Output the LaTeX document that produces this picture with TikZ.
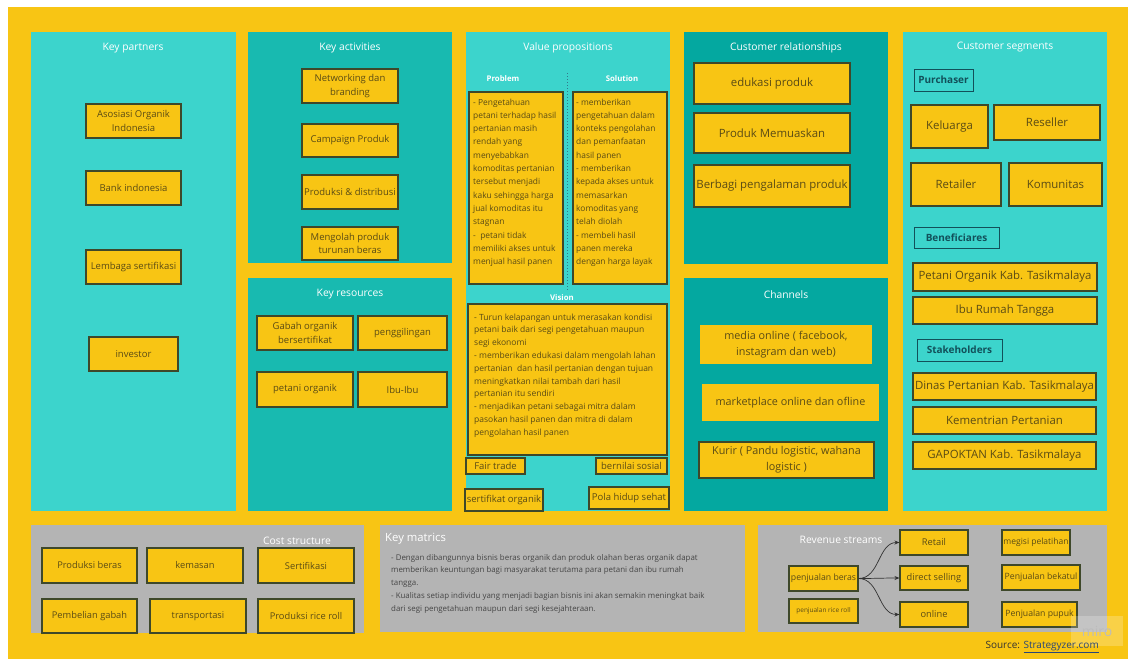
\documentclass[tikz,border=0pt]{standalone}
\usepackage{fontspec}
\setmainfont{Open Sans}
\usetikzlibrary{arrows.meta}
\definecolor{bgy}{RGB}{248,197,20}
\definecolor{tealL}{RGB}{60,212,204}
\definecolor{tealM}{RGB}{24,186,176}
\definecolor{tealD}{RGB}{4,168,160}
\definecolor{grayS}{RGB}{180,180,180}
\definecolor{boxy}{RGB}{248,197,20}
\definecolor{boxline}{RGB}{62,72,42}
\definecolor{boxtext}{RGB}{90,75,20}
\definecolor{labteal}{RGB}{18,80,90}
\definecolor{dotteal}{RGB}{50,120,140}
\definecolor{linkblue}{RGB}{40,70,120}
\newcommand\fs[2]{\fontsize{#1}{#2}\selectfont}
\newcommand\rbox[7]{\node[#1,minimum width={#5-#3},minimum height={#6-#4}] (#2) at ({(#3+#5)/2},{(#4+#6)/2}) {#7};}
\begin{document}
\begin{tikzpicture}[x=1pt,y=-1pt,
  ybox/.style={fill=boxy, draw=boxline, line width=1.1pt, text=boxtext, inner sep=1pt, align=center, font=\fs{9.5}{13.5}},
  nbox/.style={ybox, draw=none},
  labbox/.style={fill=tealL, draw=labteal, line width=1pt, text=labteal, inner sep=1pt, font=\bfseries\fs{10}{12}},
  hdr/.style={text=white, inner sep=0pt, font=\fs{10.3}{12}},
  subhdr/.style={text=white, inner sep=0pt, font=\bfseries\fs{7.8}{10}},
  ptext/.style={text=boxtext, align=left, inner sep=0pt},
  arr/.style={-{Stealth[length=5pt,width=4pt]}, line width=0.7pt, draw={rgb,255:red,50;green,50;blue,50}}
]
\useasboundingbox (0,0) rectangle (1128,659);
\fill[white] (0,0) rectangle (1128,659);
\fill[bgy] (8,7) rectangle (1128,659);
% section backgrounds
\fill[tealL] (31,32) rectangle (236,511);
\fill[tealM] (248,32) rectangle (452,263);
\fill[tealM] (248,278) rectangle (452,511);
\fill[tealL] (466,32) rectangle (670,511);
\fill[tealD] (684,32) rectangle (888,264);
\fill[tealD] (684,278) rectangle (888,511);
\fill[tealL] (903,32) rectangle (1107,511);
\fill[grayS] (31,525) rectangle (364,633);
\fill[grayS] (380,525) rectangle (745,632);
\fill[grayS] (758,525) rectangle (1107,632);
% headers
\node[hdr] (hkp) at (133,48.5) {Key partners};
\node[hdr] (hka) at (350,47.5) {Key activities};
\node[hdr] (hvp) at (568,47.5) {Value propositions};
\node[hdr] (hcr) at (786,47.5) {Customer relationships};
\node[hdr] (hcs) at (1005,47.5) {Customer segments};
\node[hdr] (hkr) at (350,294.5) {Key resources};
\node[hdr] (hch) at (786,294.5) {Channels};
\node[hdr] (hcost) at (297,540.5) {Cost structure};
\node[hdr, anchor=west, font=\fs{11.3}{13}] (hkm) at (385,538.5) {Key matrics};
\node[hdr] (hrev) at (841,539.5) {Revenue streams};
% Key partners
\rbox{ybox}{kp1}{86}{104}{181}{138}{Asosiasi Organik\\Indonesia}
\rbox{ybox}{kp2}{86}{171}{181}{205}{Bank indonesia}
\rbox{ybox}{kp3}{86}{250}{181}{284}{Lembaga sertifikasi}
\rbox{ybox}{kp4}{89}{337}{178}{371}{investor}
% Key activities
\rbox{ybox}{ka1}{302}{69}{398}{103}{Networking dan\\branding}
\rbox{ybox}{ka2}{302}{124}{398}{157}{Campaign Produk}
\rbox{ybox}{ka3}{302}{175}{398}{209}{Produksi \& distribusi}
\rbox{ybox}{ka4}{302}{227}{398}{260}{Mengolah produk\\turunan beras}
% Key resources
\rbox{ybox}{kr1}{257}{316}{353}{350}{Gabah organik\\bersertifikat}
\rbox{ybox}{kr2}{358}{316}{447}{350}{penggilingan}
\rbox{ybox}{kr3}{257}{372}{353}{407}{petani organik}
\rbox{ybox}{kr4}{358}{372}{447}{407}{Ibu-Ibu}
% Value propositions
\node[subhdr] (hprob) at (503,79) {Problem};
\node[subhdr] (hsol) at (622,79) {Solution};
\draw[dotteal, dotted, line width=1pt] (567,73) -- (567,290);
\rbox{ybox}{prob}{469}{92}{563}{284}{}
\rbox{ybox}{sol}{573}{92}{667}{284}{}
\node[ptext, anchor=north west, font=\fs{8.4}{13.3}] (probtxt) at (473,98.5) {- Pengetahuan\\petani terhadap hasil\\pertanian masih\\rendah yang\\menyebabkan\\komoditas pertanian\\tersebut menjadi\\kaku sehingga harga\\jual komoditas itu\\stagnan\\-\ \ petani tidak\\memiliki akses untuk\\menjual hasil panen};
\node[ptext, anchor=north west, font=\fs{8.4}{13.3}] (soltxt) at (576,98.5) {- memberikan\\pengetahuan dalam\\konteks pengolahan\\dan pemanfaatan\\hasil panen\\- memberikan\\kepada akses untuk\\memasarkan\\komoditas yang\\telah diolah\\- membeli hasil\\panen mereka\\dengan harga layak};
\node[subhdr] (hvis) at (562,298) {Vision};
\rbox{ybox}{vis}{468}{304}{667}{455}{}
\node[ptext, anchor=north west, font=\fs{8.5}{12.8}] (vistxt) at (474,313.5) {- Turun kelapangan untuk merasakan kondisi\\petani baik dari segi pengetahuan maupun\\segi ekonomi\\- memberikan edukasi dalam mengolah lahan\\pertanian\ \ dan hasil pertanian dengan tujuan\\meningkatkan nilai tambah dari hasil\\pertanian itu sendiri\\- menjadikan petani sebagai mitra dalam\\pasokan hasil panen dan mitra di dalam\\pengolahan hasil panen};
\rbox{ybox}{fair}{466}{458}{525}{474}{Fair trade}
\rbox{ybox}{sosial}{596}{458}{667}{474}{bernilai sosial}
\rbox{ybox}{sert}{465}{489}{543}{511}{sertifikat organik}
\rbox{ybox}{pola}{589}{487}{669}{509}{Pola hidup sehat}
% Customer relationships
\rbox{ybox, font=\fs{11.4}{14}}{cr1}{694}{63}{850}{104}{edukasi produk}
\rbox{ybox, font=\fs{11.4}{14}}{cr2}{694}{113}{850}{153}{Produk Memuaskan}
\rbox{ybox, font=\fs{11.4}{14}}{cr3}{694}{165}{850}{207}{Berbagi pengalaman produk}
% Channels
\rbox{nbox, font=\fs{10.8}{16}}{ch1}{700}{325}{872}{364}{media online ( facebook,\\instagram dan web)}
\rbox{nbox, font=\fs{10.8}{16}}{ch2}{702}{384}{879}{421}{marketplace online dan ofline}
\rbox{ybox, font=\fs{10.8}{16}}{ch3}{699}{442}{874}{478}{Kurir ( Pandu logistic, wahana\\logistic )}
% Customer segments
\rbox{labbox}{purch}{914}{69}{973}{91}{Purchaser}
\rbox{ybox, font=\fs{11.4}{14}}{kel}{911}{105}{988}{148}{Keluarga}
\rbox{ybox, font=\fs{11.4}{14}}{res}{994}{105}{1100}{140}{Reseller}
\rbox{ybox, font=\fs{11.4}{14}}{ret}{911}{163}{1001}{206}{Retailer}
\rbox{ybox, font=\fs{11.4}{14}}{kom}{1009}{163}{1102}{206}{Komunitas}
\rbox{labbox}{benef}{914}{227}{999}{248}{Beneficiares}
\rbox{ybox, font=\fs{11.4}{14}}{pok}{913}{263}{1097}{291}{Petani Organik Kab. Tasikmalaya}
\rbox{ybox, font=\fs{11.4}{14}}{irt}{913}{297}{1097}{324}{Ibu Rumah Tangga}
\rbox{labbox}{stake}{917}{339}{1002}{361}{Stakeholders}
\rbox{ybox, font=\fs{11.4}{14}}{dinas}{913}{373}{1096}{400}{Dinas Pertanian Kab. Tasikmalaya}
\rbox{ybox, font=\fs{11.4}{14}}{kemen}{913}{407}{1096}{434}{Kementrian Pertanian}
\rbox{ybox, font=\fs{11.4}{14}}{gapok}{913}{442}{1096}{469}{GAPOKTAN Kab. Tasikmalaya}
% Cost structure
\rbox{ybox, font=\fs{9.3}{12}}{cs1}{42}{548}{137}{583}{Produksi beras}
\rbox{ybox, font=\fs{9.3}{12}}{cs2}{147}{548}{243}{583}{kemasan}
\rbox{ybox, font=\fs{9.3}{12}}{cs3}{258}{548}{354}{583}{Sertifikasi}
\rbox{ybox, font=\fs{9.3}{12}}{cs4}{42}{599}{137}{633}{Pembelian gabah}
\rbox{ybox, font=\fs{9.3}{12}}{cs5}{150}{599}{246}{633}{transportasi}
\rbox{ybox, font=\fs{9.3}{12}}{cs6}{258}{599}{354}{633}{Produksi rice roll}
% Key matrics
\node[ptext, anchor=north west, text={rgb,255:red,70;green,70;blue,70}, font=\fs{7.9}{12.7}] (kmtxt) at (391,554) {- Dengan dibangunnya bisnis beras organik dan produk olahan beras organik dapat\\memberikan keuntungan bagi masyarakat terutama para petani dan ibu rumah\\tangga.\\- Kualitas setiap individu yang menjadi bagian bisnis ini akan semakin meningkat baik\\dari segi pengetahuan maupun dari segi kesejahteraan.};
% Revenue streams
\rbox{ybox, font=\fs{9.3}{12}}{rt}{900}{530}{968}{555}{Retail}
\rbox{ybox, font=\fs{9.3}{12}}{ds}{900}{566}{968}{590}{direct selling}
\rbox{ybox, font=\fs{9.3}{12}}{on}{900}{602}{968}{627}{online}
\rbox{ybox, font=\fs{8.7}{12}}{pb}{789}{566}{858}{591}{penjualan beras}
\rbox{ybox, font=\fs{6.5}{8}}{prr}{789}{599}{858}{623}{penjualan rice roll}
\rbox{ybox, font=\fs{8.5}{12}}{mp}{1002}{530}{1070}{555}{megisi pelatihan}
\rbox{ybox, font=\fs{8.7}{12}}{pbk}{1002}{565}{1080}{590}{Penjualan bekatul}
\rbox{ybox, font=\fs{8.7}{12}}{pp}{1002}{602}{1077}{627}{Penjualan pupuk}
\draw[arr] (pb.east) to[out=0,in=180] (rt.west);
\draw[arr] (pb.east) to[out=0,in=180] (ds.west);
\draw[arr] (pb.east) to[out=0,in=180] (on.west);
% watermark and source
\node[fill=white, fill opacity=0.22, text opacity=1, text={rgb,255:red,188;green,188;blue,188}, font=\fs{14}{15}, minimum width=52pt, minimum height=30pt, inner sep=0pt] (miro) at (1097,631) {miro};
\node[anchor=east, inner sep=0pt, text={rgb,255:red,50;green,50;blue,50}, font=\fs{10}{12}] (src) at (1099,647) {Source: \textcolor{linkblue}{\underline{Strategyzer.com}}};
\end{tikzpicture}
\end{document}
